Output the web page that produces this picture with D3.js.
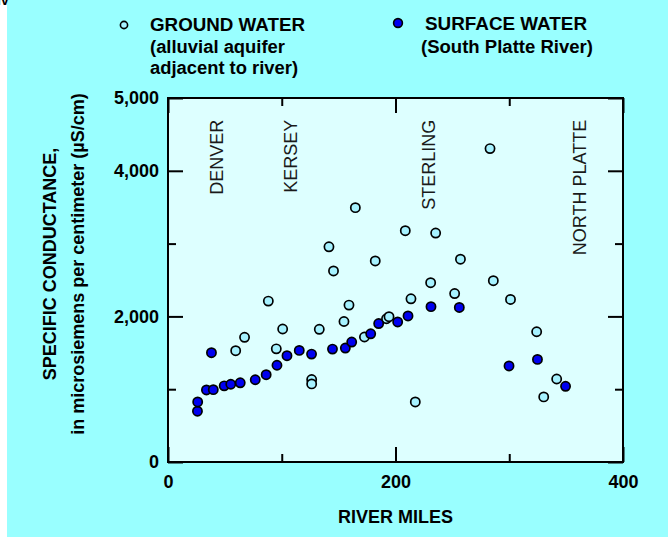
<!DOCTYPE html>
<html>
<head>
<meta charset="utf-8">
<script src="https://cdn.jsdelivr.net/npm/d3@7"></script>
<style>
    body { margin: 0; background: #fff; }
    svg { display: block; font-family: "Liberation Sans", Arial, sans-serif; }
    .tick line { stroke: #000; stroke-width: 2px; }
    .tick text { font-size: 18px; font-weight: bold; fill: #000; }
</style>
</head>
<body>
<div id="chart"></div>
<script>
// river mile / specific conductance (uS/cm)
const groundMiles = [59.5, 67.3, 88.2, 95.2, 100.8, 126.3, 126.3, 133, 141.5, 145.5, 154.7, 159.1, 164.7, 172.7,
    182.2, 192.1, 194.3, 208.6, 213.6, 217.4, 230.9, 235.3, 252, 257.1, 283.1, 286, 301.1, 324.1, 330.3, 341.7];
const groundValues = [1529, 1713, 2210, 1554, 1827, 1133, 1073, 1823, 2956, 2624, 1930, 2155, 3494, 1717,
    2762, 1968, 1996, 3177, 2242, 825, 2463, 3145, 2314, 2786, 4305, 2490, 2233, 1789, 894, 1140];

const surfaceMiles = [25.9, 26.1, 33.8, 38.2, 39.8, 49.4, 55.2, 63.5, 76.7, 86.3, 95.8, 104.6, 115.4,
    126.2, 144.6, 155.9, 161.5, 178.2, 185.2, 201.9, 211, 231.2, 256.1, 299.8, 324.8, 349.5];
const surfaceValues = [698, 825, 990, 1501, 994, 1046, 1068, 1088, 1130, 1199, 1329, 1460, 1533,
    1482, 1551, 1565, 1648, 1761, 1902, 1924, 2006, 2134, 2123, 1319, 1409, 1040];

const cityNames = ["DENVER", "KERSEY", "STERLING", "NORTH PLATTE"];
const cityMiles = [42.8, 107.3, 228.6, 362.2];

const xMajorTicks = [0, 200, 400];
const xMinorTicks = [100, 300];
const yMajorTicks = [0, 2000, 4000, 5000];
const yMinorTicks = [1000, 3000];

const W = 668, H = 537;
const plot = { left: 168, top: 98, right: 623, bottom: 462 };

const xScale = d3.scaleLinear().domain([0, 400]).range([plot.left, plot.right]);
const yScale = d3.scaleLinear().domain([0, 5000]).range([plot.bottom, plot.top]);

const svg = d3.select("#chart").append("svg").attr("width", W).attr("height", H);

function drawBackground() {
    svg.append("rect").attr("x", 7).attr("y", 0).attr("width", W - 7).attr("height", H).attr("fill", "#99ffff");
    // cut-off glyph in the top left corner of the scan
    svg.append("text").attr("x", -3).attr("y", 5).attr("font-size", 14).attr("font-weight", "bold").text("lv");
    svg.append("rect")
        .attr("x", plot.left).attr("y", plot.top)
        .attr("width", plot.right - plot.left).attr("height", plot.bottom - plot.top)
        .attr("fill", "#ddffff");
}

function drawAxes() {
    const fmt = d3.format(",");
    const noLabel = () => "";
    // labelled axes
    svg.append("g").attr("transform", `translate(${plot.left},0)`)
        .call(d3.axisLeft(yScale).tickValues(yMajorTicks).tickSize(-15).tickSizeOuter(0).tickPadding(9).tickFormat(fmt));
    svg.append("g").attr("transform", `translate(0,${plot.bottom})`)
        .call(d3.axisBottom(xScale).tickValues(xMajorTicks).tickSize(-15).tickSizeOuter(0).tickPadding(13).tickFormat(fmt));
    // mirrored and minor ticks
    svg.append("g").attr("transform", `translate(${plot.right},0)`)
        .call(d3.axisRight(yScale).tickValues(yMajorTicks).tickSize(-15).tickSizeOuter(0).tickFormat(noLabel));
    svg.append("g").attr("transform", `translate(0,${plot.top})`)
        .call(d3.axisTop(xScale).tickValues(xMajorTicks).tickSize(-15).tickSizeOuter(0).tickFormat(noLabel));
    svg.append("g").attr("transform", `translate(${plot.left},0)`)
        .call(d3.axisLeft(yScale).tickValues(yMinorTicks).tickSize(-8).tickSizeOuter(0).tickFormat(noLabel));
    svg.append("g").attr("transform", `translate(${plot.right},0)`)
        .call(d3.axisRight(yScale).tickValues(yMinorTicks).tickSize(-8).tickSizeOuter(0).tickFormat(noLabel));
    svg.append("g").attr("transform", `translate(0,${plot.bottom})`)
        .call(d3.axisBottom(xScale).tickValues(xMinorTicks).tickSize(-8).tickSizeOuter(0).tickFormat(noLabel));
    svg.append("g").attr("transform", `translate(0,${plot.top})`)
        .call(d3.axisTop(xScale).tickValues(xMinorTicks).tickSize(-8).tickSizeOuter(0).tickFormat(noLabel));
    svg.selectAll(".domain").remove();

    svg.append("rect")
        .attr("x", plot.left).attr("y", plot.top)
        .attr("width", plot.right - plot.left).attr("height", plot.bottom - plot.top)
        .attr("fill", "none").attr("stroke", "#000").attr("stroke-width", 2);
}

function drawLabels() {
    svg.append("text")
        .attr("x", (plot.left + plot.right) / 2).attr("y", 523)
        .attr("text-anchor", "middle").attr("font-size", 18).attr("font-weight", "bold")
        .text("RIVER MILES");

    const yMid = 264;
    svg.append("text")
        .attr("transform", `translate(50,${yMid}) rotate(-90)`)
        .attr("text-anchor", "middle").attr("dy", "0.35em").attr("font-size", 18).attr("font-weight", "bold")
        .text("SPECIFIC CONDUCTANCE,");
    svg.append("text")
        .attr("transform", `translate(78,${yMid}) rotate(-90)`)
        .attr("text-anchor", "middle").attr("dy", "0.35em").attr("font-size", 18).attr("font-weight", "bold")
        .text("in microsiemens per centimeter (\u00b5S/cm)");

    svg.append("g").selectAll("text").data(cityNames).enter().append("text")
        .attr("transform", (d, i) => `translate(${xScale(cityMiles[i])},${yScale(4700)}) rotate(-90)`)
        .attr("text-anchor", "end").attr("dy", "0.36em")
        .attr("font-size", 18).attr("fill", "#1a1a1a")
        .text(d => d);
}

function drawLegend() {
    const leg = svg.append("g").attr("font-size", 18).attr("font-weight", "bold");
    leg.append("circle").attr("cx", 124).attr("cy", 25).attr("r", 3.6)
        .attr("fill", "#a6f2ff").attr("stroke", "#000").attr("stroke-width", 1.6);
    leg.append("text").attr("x", 150).attr("y", 31).attr("textLength", 155).attr("lengthAdjust", "spacingAndGlyphs").text("GROUND WATER");
    leg.append("text").attr("x", 150).attr("y", 53).attr("textLength", 135).attr("lengthAdjust", "spacingAndGlyphs").text("(alluvial aquifer");
    leg.append("text").attr("x", 150).attr("y", 74).attr("textLength", 148).attr("lengthAdjust", "spacingAndGlyphs").text("adjacent to river)");

    leg.append("circle").attr("cx", 398).attr("cy", 23).attr("r", 4.4)
        .attr("fill", "#0000f0").attr("stroke", "#000").attr("stroke-width", 1.6);
    leg.append("text").attr("x", 425).attr("y", 30).attr("textLength", 162).attr("lengthAdjust", "spacingAndGlyphs").text("SURFACE WATER");
    leg.append("text").attr("x", 421).attr("y", 53).attr("textLength", 172).attr("lengthAdjust", "spacingAndGlyphs").text("(South Platte River)");
}

function drawPoints() {
    const ground = groundMiles.map((m, i) => [m, groundValues[i]]);
    const surface = surfaceMiles.map((m, i) => [m, surfaceValues[i]]);
    svg.append("g").selectAll("circle").data(ground).enter().append("circle")
        .attr("cx", d => xScale(d[0])).attr("cy", d => yScale(d[1])).attr("r", 4.6)
        .attr("fill", "#a6f2ff").attr("stroke", "#000").attr("stroke-width", 1.7);
    svg.append("g").selectAll("circle").data(surface).enter().append("circle")
        .attr("cx", d => xScale(d[0])).attr("cy", d => yScale(d[1])).attr("r", 4.6)
        .attr("fill", "#0000f0").attr("stroke", "#000").attr("stroke-width", 1.7);
}

drawBackground();
drawAxes();
drawLabels();
drawLegend();
drawPoints();
</script>
</body>
</html>
